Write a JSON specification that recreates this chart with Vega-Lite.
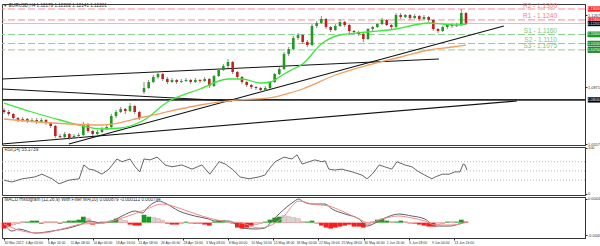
{
"$schema":"https://vega.github.io/schema/vega-lite/v6.json",
"background":"white",
"padding":{"left":0,"top":2,"right":0,"bottom":0},
"bounds":"flush",
"spacing":2,
"config":{"view":{"stroke":"#3a3a3a","strokeWidth":1},"font":"Liberation Sans","axis":{"labelFont":"Liberation Sans","labelColor":"#333","tickColor":"#333","domainColor":"#333","grid":false,"title":null,"labelOverlap":false,"labelFontSize":3.9,"tickSize":2,"labelPadding":0.5}},
"datasets":{
"candles":[
{"i":0,"o":1.07445,"h":1.07555,"l":1.07225,"c":1.07335},
{"i":1,"o":1.07335,"h":1.07445,"l":1.07115,"c":1.07225},
{"i":2,"o":1.07225,"h":1.0728,"l":1.0695,"c":1.07005},
{"i":3,"o":1.07005,"h":1.0706,"l":1.06785,"c":1.06895},
{"i":4,"o":1.06895,"h":1.0706,"l":1.06785,"c":1.0695},
{"i":5,"o":1.0695,"h":1.07005,"l":1.0673,"c":1.0684},
{"i":6,"o":1.0684,"h":1.07005,"l":1.06785,"c":1.06895},
{"i":7,"o":1.06895,"h":1.07005,"l":1.06675,"c":1.06785},
{"i":8,"o":1.06785,"h":1.07005,"l":1.0673,"c":1.06895},
{"i":9,"o":1.06895,"h":1.0695,"l":1.0662,"c":1.0673},
{"i":10,"o":1.0673,"h":1.06785,"l":1.06455,"c":1.06565},
{"i":11,"o":1.06565,"h":1.0662,"l":1.05905,"c":1.06015},
{"i":12,"o":1.06015,"h":1.06125,"l":1.05795,"c":1.0596},
{"i":13,"o":1.0596,"h":1.06235,"l":1.05905,"c":1.06125},
{"i":14,"o":1.06125,"h":1.0618,"l":1.05795,"c":1.05905},
{"i":15,"o":1.05905,"h":1.06125,"l":1.0585,"c":1.06015},
{"i":16,"o":1.06015,"h":1.0618,"l":1.05905,"c":1.0607},
{"i":17,"o":1.0607,"h":1.06785,"l":1.06015,"c":1.06675},
{"i":18,"o":1.06675,"h":1.0673,"l":1.0618,"c":1.0629},
{"i":19,"o":1.0629,"h":1.06345,"l":1.06015,"c":1.06125},
{"i":20,"o":1.06125,"h":1.06345,"l":1.0607,"c":1.06235},
{"i":21,"o":1.06235,"h":1.0651,"l":1.0618,"c":1.064},
{"i":22,"o":1.064,"h":1.0662,"l":1.06345,"c":1.0651},
{"i":23,"o":1.0651,"h":1.07225,"l":1.06455,"c":1.07115},
{"i":24,"o":1.07115,"h":1.07445,"l":1.07005,"c":1.07335},
{"i":25,"o":1.07335,"h":1.0761,"l":1.0728,"c":1.075},
{"i":26,"o":1.075,"h":1.07555,"l":1.07225,"c":1.0739},
{"i":27,"o":1.0739,"h":1.0783,"l":1.07335,"c":1.07665},
{"i":28,"o":1.07665,"h":1.0772,"l":1.07225,"c":1.07335},
{"i":29,"o":1.07335,"h":1.0739,"l":1.06895,"c":1.07005},
{"i":30,"o":1.08435,"h":1.08985,"l":1.08325,"c":1.08655},
{"i":31,"o":1.08655,"h":1.09095,"l":1.086,"c":1.08985},
{"i":32,"o":1.08985,"h":1.0937,"l":1.0893,"c":1.0926},
{"i":33,"o":1.0926,"h":1.0959,"l":1.0915,"c":1.09425},
{"i":34,"o":1.09425,"h":1.0948,"l":1.0904,"c":1.0915},
{"i":35,"o":1.0915,"h":1.0926,"l":1.08875,"c":1.08985},
{"i":36,"o":1.08985,"h":1.09205,"l":1.0893,"c":1.09095},
{"i":37,"o":1.09095,"h":1.0915,"l":1.08875,"c":1.08985},
{"i":38,"o":1.08985,"h":1.0915,"l":1.0893,"c":1.0904},
{"i":39,"o":1.0904,"h":1.09205,"l":1.08985,"c":1.09095},
{"i":40,"o":1.09095,"h":1.0915,"l":1.08875,"c":1.08985},
{"i":41,"o":1.08985,"h":1.09205,"l":1.0893,"c":1.09095},
{"i":42,"o":1.09095,"h":1.0915,"l":1.0893,"c":1.0904},
{"i":43,"o":1.0904,"h":1.0926,"l":1.08985,"c":1.0915},
{"i":44,"o":1.0915,"h":1.09205,"l":1.08655,"c":1.08765},
{"i":45,"o":1.08765,"h":1.0937,"l":1.0871,"c":1.09315},
{"i":46,"o":1.09315,"h":1.09755,"l":1.0926,"c":1.09645},
{"i":47,"o":1.09645,"h":1.09975,"l":1.0959,"c":1.09865},
{"i":48,"o":1.09865,"h":1.1025,"l":1.09755,"c":1.10085},
{"i":49,"o":1.10085,"h":1.1014,"l":1.09425,"c":1.09535},
{"i":50,"o":1.09535,"h":1.0959,"l":1.0915,"c":1.0926},
{"i":51,"o":1.0926,"h":1.09315,"l":1.08875,"c":1.08985},
{"i":52,"o":1.08985,"h":1.0904,"l":1.0871,"c":1.0882},
{"i":53,"o":1.0882,"h":1.08875,"l":1.086,"c":1.0871},
{"i":54,"o":1.0871,"h":1.08765,"l":1.08545,"c":1.08655},
{"i":55,"o":1.08655,"h":1.0871,"l":1.08435,"c":1.08545},
{"i":56,"o":1.08545,"h":1.08765,"l":1.0849,"c":1.08655},
{"i":57,"o":1.08655,"h":1.0904,"l":1.086,"c":1.08985},
{"i":58,"o":1.08985,"h":1.0948,"l":1.0893,"c":1.09425},
{"i":59,"o":1.09425,"h":1.0981,"l":1.0937,"c":1.097},
{"i":60,"o":1.097,"h":1.10635,"l":1.09645,"c":1.10525},
{"i":61,"o":1.10525,"h":1.1091,"l":1.10415,"c":1.108},
{"i":62,"o":1.108,"h":1.11515,"l":1.10745,"c":1.11405},
{"i":63,"o":1.11405,"h":1.1168,"l":1.11295,"c":1.1157},
{"i":64,"o":1.1157,"h":1.11625,"l":1.11075,"c":1.11185},
{"i":65,"o":1.11185,"h":1.11295,"l":1.1091,"c":1.1102},
{"i":66,"o":1.1102,"h":1.12175,"l":1.10965,"c":1.12065},
{"i":67,"o":1.12065,"h":1.1234,"l":1.11955,"c":1.1223},
{"i":68,"o":1.1223,"h":1.12615,"l":1.12175,"c":1.1245},
{"i":69,"o":1.1245,"h":1.12505,"l":1.119,"c":1.1201},
{"i":70,"o":1.1201,"h":1.12065,"l":1.11735,"c":1.11845},
{"i":71,"o":1.11845,"h":1.12175,"l":1.1179,"c":1.12065},
{"i":72,"o":1.12065,"h":1.1245,"l":1.1201,"c":1.12285},
{"i":73,"o":1.12285,"h":1.1234,"l":1.1201,"c":1.1212},
{"i":74,"o":1.1212,"h":1.12175,"l":1.1168,"c":1.1179},
{"i":75,"o":1.1179,"h":1.11845,"l":1.11625,"c":1.11735},
{"i":76,"o":1.11735,"h":1.1179,"l":1.11515,"c":1.11625},
{"i":77,"o":1.11625,"h":1.1168,"l":1.11185,"c":1.1135},
{"i":78,"o":1.1135,"h":1.11955,"l":1.11295,"c":1.119},
{"i":79,"o":1.119,"h":1.12065,"l":1.1179,"c":1.1201},
{"i":80,"o":1.1201,"h":1.1223,"l":1.11955,"c":1.12175},
{"i":81,"o":1.12175,"h":1.12505,"l":1.1212,"c":1.12395},
{"i":82,"o":1.12395,"h":1.1245,"l":1.12065,"c":1.1212},
{"i":83,"o":1.1212,"h":1.12175,"l":1.119,"c":1.1201},
{"i":84,"o":1.1201,"h":1.1278,"l":1.11955,"c":1.1267},
{"i":85,"o":1.1267,"h":1.1278,"l":1.1245,"c":1.1256},
{"i":86,"o":1.1256,"h":1.12725,"l":1.12505,"c":1.1267},
{"i":87,"o":1.1267,"h":1.12725,"l":1.12395,"c":1.12505},
{"i":88,"o":1.12505,"h":1.12725,"l":1.1245,"c":1.12615},
{"i":89,"o":1.12615,"h":1.1267,"l":1.1234,"c":1.1245},
{"i":90,"o":1.1245,"h":1.1267,"l":1.12395,"c":1.1256},
{"i":91,"o":1.1256,"h":1.12615,"l":1.12285,"c":1.12395},
{"i":92,"o":1.12395,"h":1.1245,"l":1.1179,"c":1.119},
{"i":93,"o":1.119,"h":1.11955,"l":1.1168,"c":1.1179},
{"i":94,"o":1.1179,"h":1.12065,"l":1.11735,"c":1.1201},
{"i":95,"o":1.1201,"h":1.12175,"l":1.119,"c":1.1212},
{"i":96,"o":1.1212,"h":1.1223,"l":1.11955,"c":1.12065},
{"i":97,"o":1.12065,"h":1.1223,"l":1.1201,"c":1.1212},
{"i":98,"o":1.1212,"h":1.13,"l":1.12065,"c":1.1278},
{"i":99,"o":1.1278,"h":1.12835,"l":1.1212,"c":1.12201}
],
"ma":[
{"n":"g","i":0,"p":1.0783},{"n":"g","i":6,"p":1.07335},{"n":"g","i":12,"p":1.06895},{"n":"g","i":21,"p":1.064},{"n":"g","i":25,"p":1.06455},{"n":"g","i":30,"p":1.06895},{"n":"g","i":35,"p":1.07885},{"n":"g","i":42,"p":1.086},{"n":"g","i":48,"p":1.0915},{"n":"g","i":51,"p":1.0915},{"n":"g","i":55,"p":1.0893},{"n":"g","i":57,"p":1.08985},{"n":"g","i":60,"p":1.09425},{"n":"g","i":62,"p":1.097},{"n":"g","i":64,"p":1.09975},{"n":"g","i":68,"p":1.11075},{"n":"g","i":72,"p":1.1157},{"n":"g","i":78,"p":1.11735},{"n":"g","i":84,"p":1.119},{"n":"g","i":89,"p":1.12175},{"n":"g","i":91,"p":1.1223},{"n":"g","i":94,"p":1.12175},{"n":"g","i":97,"p":1.1212},{"n":"g","i":99,"p":1.12175},
{"n":"o","i":0,"p":1.0695},{"n":"o","i":21,"p":1.0662},{"n":"o","i":30,"p":1.0706},{"n":"o","i":42,"p":1.0772},{"n":"o","i":50,"p":1.08},{"n":"o","i":57,"p":1.0811},{"n":"o","i":62,"p":1.08435},{"n":"o","i":64,"p":1.086},{"n":"o","i":71,"p":1.0937},{"n":"o","i":78,"p":1.0992},{"n":"o","i":85,"p":1.1036},{"n":"o","i":91,"p":1.10745},{"n":"o","i":96,"p":1.1091},{"n":"o","i":99,"p":1.1102}
],
"tl":[
{"n":"A","i":-0.43,"p":1.0915},{"n":"A","i":93.2,"p":1.1025},
{"n":"B","i":-0.43,"p":1.086},{"n":"B","i":48.9,"p":1.0794},
{"n":"C","i":13.9,"p":1.05575},{"n":"C","i":107.1,"p":1.12065},
{"n":"D","i":-0.43,"p":1.05575},{"n":"D","i":109.9,"p":1.0794}
],
"cur":[{"p":1.12201}],
"hline":[{"p":1.08}],
"levels":[
{"k":"R","p":1.13,"t":"R2 - 1.1300"},{"k":"R","p":1.124,"t":"R1 - 1.1240"},{"k":"S","p":1.116,"t":"S1 - 1.1160"},{"k":"S","p":1.111,"t":"S2 - 1.1110"},{"k":"S","p":1.1075,"t":"S3 - 1.1075"}
],
"tags":[
{"k":"R","p":1.13,"t":"1.13000"},{"k":"R","p":1.124,"t":"1.12400"},{"k":"B","p":1.12201,"t":"1.12201"},{"k":"S","p":1.116,"t":"1.11600"},{"k":"S","p":1.111,"t":"1.11100"},{"k":"S","p":1.1075,"t":"1.10750"},{"k":"B","p":1.08,"t":"1.08000"}
],
"dates":[
{"i":0,"t":"30 Mar 2017"},{"i":4.5,"t":"4 Apr 00:00"},{"i":9.34,"t":"6 Apr 16:00"},{"i":14.18,"t":"11 Apr 08:00"},{"i":19.01,"t":"14 Apr 00:00"},{"i":23.85,"t":"18 Apr 16:00"},{"i":28.69,"t":"21 Apr 08:00"},{"i":33.53,"t":"26 Apr 00:00"},{"i":38.37,"t":"28 Apr 16:00"},{"i":43.2,"t":"3 May 08:00"},{"i":48.04,"t":"8 May 00:00"},{"i":52.88,"t":"10 May 16:00"},{"i":57.72,"t":"15 May 08:00"},{"i":62.56,"t":"18 May 00:00"},{"i":67.39,"t":"22 May 16:00"},{"i":72.23,"t":"25 May 08:00"},{"i":77.07,"t":"30 May 00:00"},{"i":81.91,"t":"1 Jun 16:00"},{"i":86.75,"t":"6 Jun 08:00"},{"i":91.58,"t":"9 Jun 00:00"},{"i":96.42,"t":"13 Jun 16:00"}
],
"rsi":[
{"i":0,"v":30},{"i":1.7,"v":26},{"i":3.9,"v":33},{"i":6.6,"v":37},{"i":8.1,"v":43},{"i":10.3,"v":33},{"i":11.8,"v":22},{"i":13.9,"v":30},{"i":16.1,"v":33},{"i":17.1,"v":63},{"i":18.2,"v":54},{"i":19.3,"v":52},{"i":21,"v":43},{"i":22.5,"v":54},{"i":24.2,"v":76},{"i":25.3,"v":70},{"i":27,"v":76},{"i":28.1,"v":59},{"i":29.1,"v":48},{"i":30,"v":76},{"i":31.3,"v":74},{"i":32.8,"v":80},{"i":33.9,"v":70},{"i":34.5,"v":63},{"i":36,"v":59},{"i":38.1,"v":63},{"i":40.3,"v":54},{"i":42.4,"v":63},{"i":44.1,"v":43},{"i":46.1,"v":70},{"i":47.4,"v":65},{"i":48.9,"v":54},{"i":50.6,"v":37},{"i":52.5,"v":33},{"i":54.6,"v":37},{"i":55.9,"v":41},{"i":56.8,"v":54},{"i":58.1,"v":70},{"i":60,"v":80},{"i":61.7,"v":76},{"i":62.8,"v":85},{"i":63.9,"v":65},{"i":65.4,"v":70},{"i":66.6,"v":74},{"i":68.1,"v":70},{"i":68.8,"v":72},{"i":69.6,"v":54},{"i":70.9,"v":52},{"i":72.4,"v":54},{"i":74.6,"v":48},{"i":76.7,"v":41},{"i":77.8,"v":33},{"i":78.9,"v":43},{"i":80.4,"v":63},{"i":81.6,"v":59},{"i":83.1,"v":54},{"i":84.2,"v":70},{"i":85.9,"v":63},{"i":87.4,"v":59},{"i":88.9,"v":48},{"i":90.2,"v":41},{"i":91.7,"v":33},{"i":92.4,"v":37},{"i":93.9,"v":43},{"i":95.4,"v":43},{"i":96.6,"v":48},{"i":97.7,"v":48},{"i":98.4,"v":65},{"i":98.8,"v":63},{"i":99.2,"v":52}
],
"macd":[
{"n":"m","i":0,"v":-0.0001},{"n":"m","i":1.7,"v":-0.00145},{"n":"m","i":3.2,"v":-0.0011},{"n":"m","i":6.6,"v":-0.0018},{"n":"m","i":10.3,"v":-0.00145},{"n":"m","i":13.9,"v":-0.00093},{"n":"m","i":16.7,"v":-0.00024},{"n":"m","i":18.2,"v":0.00028},{"n":"m","i":21,"v":-0.00007},{"n":"m","i":23.1,"v":0.00028},{"n":"m","i":25.3,"v":0.00114},{"n":"m","i":28.1,"v":0.002},{"n":"m","i":29.6,"v":0.00166},{"n":"m","i":31.1,"v":0.00286},{"n":"m","i":33.2,"v":0.00372},{"n":"m","i":34.5,"v":0.00338},{"n":"m","i":37.5,"v":0.002},{"n":"m","i":40.9,"v":0.00114},{"n":"m","i":43.9,"v":0.00062},{"n":"m","i":45.2,"v":0.00028},{"n":"m","i":48.2,"v":0.00028},{"n":"m","i":49.5,"v":-0.00024},{"n":"m","i":51,"v":-0.00093},{"n":"m","i":53.8,"v":-0.0011},{"n":"m","i":55.9,"v":-0.00093},{"n":"m","i":57.4,"v":0.00028},{"n":"m","i":59.6,"v":0.002},{"n":"m","i":61.7,"v":0.00338},{"n":"m","i":63.2,"v":0.00407},{"n":"m","i":63.9,"v":0.00372},{"n":"m","i":66,"v":0.00321},{"n":"m","i":68.8,"v":0.00321},{"n":"m","i":70.3,"v":0.00234},{"n":"m","i":73.1,"v":0.00148},{"n":"m","i":76.1,"v":0.00062},{"n":"m","i":77.8,"v":-0.00059},{"n":"m","i":79.5,"v":-0.00007},{"n":"m","i":81.6,"v":0.00079},{"n":"m","i":84.6,"v":0.00148},{"n":"m","i":87.4,"v":0.00114},{"n":"m","i":90.2,"v":0.00062},{"n":"m","i":92.4,"v":-0.00059},{"n":"m","i":95.4,"v":-0.00059},{"n":"m","i":97.5,"v":-0.00024},{"n":"m","i":98.8,"v":0.0001},
{"n":"s","i":0,"v":-0.00024},{"n":"s","i":3.9,"v":-0.00145},{"n":"s","i":8.1,"v":-0.0018},{"n":"s","i":12.4,"v":-0.0011},{"n":"s","i":16.7,"v":-0.00024},{"n":"s","i":21,"v":-0.00007},{"n":"s","i":25.3,"v":0.00079},{"n":"s","i":29.6,"v":0.002},{"n":"s","i":33.9,"v":0.00321},{"n":"s","i":38.1,"v":0.00234},{"n":"s","i":42.4,"v":0.00114},{"n":"s","i":46.7,"v":0.00028},{"n":"s","i":51,"v":-0.00007},{"n":"s","i":54.6,"v":-0.00093},{"n":"s","i":56.8,"v":-0.00059},{"n":"s","i":59.6,"v":0.00079},{"n":"s","i":63.2,"v":0.00372},{"n":"s","i":66,"v":0.00321},{"n":"s","i":69.6,"v":0.00286},{"n":"s","i":72.4,"v":0.002},{"n":"s","i":76.1,"v":0.00062},{"n":"s","i":78.2,"v":-0.00007},{"n":"s","i":81,"v":0.00062},{"n":"s","i":84.6,"v":0.00114},{"n":"s","i":87.4,"v":0.00079},{"n":"s","i":90.2,"v":0.00028},{"n":"s","i":92.4,"v":-0.00041},{"n":"s","i":96,"v":-0.00041},{"n":"s","i":99.2,"v":0.0001}
],
"hist":[
{"i":0,"v":-0.00102,"k":"r"},{"i":1,"v":-0.00068,"k":"r"},{"i":2,"v":-0.00034,"k":"s"},{"i":3,"v":-0.00017,"k":"s"},{"i":4,"v":0.00017,"k":"s"},{"i":5,"v":0.00017,"k":"g"},{"i":6,"v":0.00034,"k":"g"},{"i":7,"v":0.00034,"k":"g"},{"i":8,"v":-0.00017,"k":"r"},{"i":9,"v":0.00017,"k":"s"},
{"i":10,"v":0.00017,"k":"s"},{"i":11,"v":0.00017,"k":"s"},{"i":12,"v":-0.00017,"k":"r"},{"i":13,"v":0.00017,"k":"g"},{"i":14,"v":0.00034,"k":"g"},{"i":15,"v":0.00034,"k":"g"},{"i":16,"v":0.00051,"k":"g"},{"i":17,"v":0.00102,"k":"g"},{"i":18,"v":0.00068,"k":"s"},{"i":19,"v":-0.00034,"k":"r"},
{"i":20,"v":-0.00017,"k":"r"},{"i":21,"v":0.00017,"k":"s"},{"i":22,"v":0.00017,"k":"s"},{"i":23,"v":0.00034,"k":"g"},{"i":24,"v":0.00068,"k":"g"},{"i":25,"v":0.00051,"k":"s"},{"i":26,"v":0.00034,"k":"s"},{"i":27,"v":-0.00034,"k":"r"},{"i":28,"v":-0.00051,"k":"r"},{"i":29,"v":-0.00051,"k":"r"},
{"i":30,"v":0.00136,"k":"g"},{"i":31,"v":0.00102,"k":"g"},{"i":32,"v":0.00085,"k":"s"},{"i":33,"v":0.00068,"k":"s"},{"i":34,"v":0.00034,"k":"s"},{"i":35,"v":-0.00017,"k":"r"},{"i":36,"v":-0.00034,"k":"r"},{"i":37,"v":-0.00034,"k":"r"},{"i":38,"v":-0.00017,"k":"s"},{"i":39,"v":0.00017,"k":"g"},
{"i":40,"v":-0.00017,"k":"s"},{"i":41,"v":-0.00017,"k":"r"},{"i":42,"v":-0.00017,"k":"r"},{"i":43,"v":-0.00034,"k":"r"},{"i":44,"v":-0.00051,"k":"r"},{"i":45,"v":0.00017,"k":"g"},{"i":46,"v":0.00034,"k":"g"},{"i":47,"v":0.00034,"k":"g"},{"i":48,"v":0.00017,"k":"s"},{"i":49,"v":-0.00017,"k":"s"},
{"i":50,"v":-0.00085,"k":"r"},{"i":51,"v":-0.00102,"k":"r"},{"i":52,"v":-0.00085,"k":"r"},{"i":53,"v":-0.00051,"k":"r"},{"i":54,"v":-0.00034,"k":"s"},{"i":55,"v":-0.00017,"k":"s"},{"i":56,"v":0.00017,"k":"g"},{"i":57,"v":0.00051,"k":"g"},{"i":58,"v":0.00085,"k":"g"},{"i":59,"v":0.00102,"k":"g"},
{"i":60,"v":0.00119,"k":"s"},{"i":61,"v":0.00102,"k":"s"},{"i":62,"v":0.00085,"k":"s"},{"i":63,"v":0.00068,"k":"s"},{"i":64,"v":0.00017,"k":"s"},{"i":65,"v":0.00017,"k":"g"},{"i":66,"v":0.00034,"k":"g"},{"i":67,"v":-0.00017,"k":"s"},{"i":68,"v":-0.00051,"k":"r"},{"i":69,"v":-0.00085,"k":"r"},
{"i":70,"v":-0.00102,"k":"r"},{"i":71,"v":-0.00085,"k":"r"},{"i":72,"v":-0.00068,"k":"r"},{"i":73,"v":-0.00051,"k":"r"},{"i":74,"v":-0.00034,"k":"r"},{"i":75,"v":-0.00068,"k":"r"},{"i":76,"v":-0.00068,"k":"r"},{"i":77,"v":-0.00085,"k":"r"},{"i":78,"v":-0.00034,"k":"s"},{"i":79,"v":0.00017,"k":"s"},
{"i":80,"v":0.00051,"k":"g"},{"i":81,"v":0.00068,"k":"g"},{"i":82,"v":0.00034,"k":"g"},{"i":83,"v":0.00017,"k":"s"},{"i":84,"v":0.00017,"k":"g"},{"i":85,"v":0.00034,"k":"g"},{"i":86,"v":0.00017,"k":"s"},{"i":87,"v":-0.00017,"k":"s"},{"i":88,"v":-0.00017,"k":"r"},{"i":89,"v":-0.00034,"k":"r"},
{"i":90,"v":-0.00051,"k":"r"},{"i":91,"v":-0.00068,"k":"r"},{"i":92,"v":-0.00068,"k":"r"},{"i":93,"v":-0.00034,"k":"s"},{"i":94,"v":-0.00017,"k":"s"},{"i":95,"v":0.00017,"k":"g"},{"i":96,"v":0.00017,"k":"s"},{"i":97,"v":0.00017,"k":"g"},{"i":98,"v":0.00051,"k":"g"},{"i":99,"v":0.00017,"k":"r"}
]
},
"vconcat":[
{"width":583,"height":141,
 "layer":[
  {"data":{"name":"levels"},"mark":{"type":"rule","strokeDash":[7,3],"strokeWidth":1},
   "encoding":{"y":{"field":"p","type":"quantitative","scale":{"domain":[1.0552,1.13275],"nice":false,"zero":false},
     "axis":{"orient":"right","values":[1.1322,1.1267,1.119,1.1003,1.0937,1.0871,1.07445,1.06785,1.0618,1.05575],"format":".5f"}},
    "color":{"condition":{"test":"datum.k === 'R'","value":"#ff8a8a"},"value":"#8ccf8c"}}},
  {"data":{"name":"cur"},"mark":{"type":"rule","color":"#c8c8c8","strokeWidth":1},
   "encoding":{"y":{"field":"p","type":"quantitative","scale":{"domain":[1.0552,1.13275],"nice":false,"zero":false}}}},
  {"data":{"name":"hline"},"mark":{"type":"rule","color":"#2a2a2a","strokeWidth":1.6},
   "encoding":{"y":{"field":"p","type":"quantitative","scale":{"domain":[1.0552,1.13275],"nice":false,"zero":false}}}},
  {"data":{"name":"tl"},"mark":{"type":"line","color":"#111","strokeWidth":1.2,"clip":true},
   "encoding":{"x":{"field":"i","type":"quantitative","scale":{"domain":[-0.43,124.5],"nice":false,"zero":false},"axis":null},
    "y":{"field":"p","type":"quantitative","scale":{"domain":[1.0552,1.13275],"nice":false,"zero":false}},
    "detail":{"field":"n","type":"nominal"}}},
  {"data":{"name":"candles"},"mark":{"type":"rule","color":"#8a8a8a","strokeWidth":1},
   "encoding":{"x":{"field":"i","type":"quantitative","scale":{"domain":[-0.43,124.5],"nice":false,"zero":false},"axis":null},
    "y":{"field":"l","type":"quantitative","scale":{"domain":[1.0552,1.13275],"nice":false,"zero":false}},
    "y2":{"field":"h"}}},
  {"data":{"name":"candles"},"mark":{"type":"rule","strokeWidth":2.6},
   "encoding":{"x":{"field":"i","type":"quantitative","scale":{"domain":[-0.43,124.5],"nice":false,"zero":false},"axis":null},
    "y":{"field":"o","type":"quantitative","scale":{"domain":[1.0552,1.13275],"nice":false,"zero":false}},
    "y2":{"field":"c"},
    "color":{"condition":{"test":"datum.c >= datum.o","value":"#1f9a1f"},"value":"#c41e1e"}}},
  {"data":{"name":"ma"},"mark":{"type":"line","interpolate":"monotone","strokeWidth":1.3},
   "encoding":{"x":{"field":"i","type":"quantitative","scale":{"domain":[-0.43,124.5],"nice":false,"zero":false},"axis":null},
    "y":{"field":"p","type":"quantitative","scale":{"domain":[1.0552,1.13275],"nice":false,"zero":false}},
    "detail":{"field":"n","type":"nominal"},
    "color":{"condition":{"test":"datum.n === 'g'","value":"#3ce83c"},"value":"#f0a060"}}},
  {"data":{"name":"levels"},"mark":{"type":"text","align":"right","baseline":"bottom","dy":-0.5,"fontSize":6.5,"clip":false},
   "encoding":{"x":{"datum":118.5,"type":"quantitative","scale":{"domain":[-0.43,124.5],"nice":false,"zero":false},"axis":null},
    "y":{"field":"p","type":"quantitative","scale":{"domain":[1.0552,1.13275],"nice":false,"zero":false}},
    "text":{"field":"t","type":"nominal"},
    "color":{"condition":{"test":"datum.k === 'R'","value":"#ff7a7a"},"value":"#7cc67c"}}},
  {"data":{"name":"tags"},"mark":{"type":"point","shape":"M-1,-0.38H1V0.38H-1Z","filled":true,"size":196,"opacity":1,"clip":false},
   "encoding":{"x":{"datum":126.6,"type":"quantitative","scale":{"domain":[-0.43,124.5],"nice":false,"zero":false},"axis":null},
    "y":{"field":"p","type":"quantitative","scale":{"domain":[1.0552,1.13275],"nice":false,"zero":false}},
    "color":{"condition":{"test":"datum.k === 'R'","value":"#ff1f1f"},"value":"#000000"}}},
  {"data":{"name":"tags"},"transform":[{"filter":"datum.k === 'S'"}],"mark":{"type":"point","shape":"M-1,-0.38H1V0.38H-1Z","filled":true,"size":196,"opacity":1,"clip":false,"color":"#1e9a1e"},
   "encoding":{"x":{"datum":126.6,"type":"quantitative","scale":{"domain":[-0.43,124.5],"nice":false,"zero":false},"axis":null},
    "y":{"field":"p","type":"quantitative","scale":{"domain":[1.0552,1.13275],"nice":false,"zero":false}}}},
  {"data":{"name":"tags"},"mark":{"type":"text","align":"center","baseline":"middle","fontSize":3.4,"color":"white","clip":false},
   "encoding":{"x":{"datum":126.4,"type":"quantitative","scale":{"domain":[-0.43,124.5],"nice":false,"zero":false},"axis":null},
    "y":{"field":"p","type":"quantitative","scale":{"domain":[1.0552,1.13275],"nice":false,"zero":false}},
    "text":{"field":"t","type":"nominal"}}},
  {"data":{"values":[{"t":"▾ EURUSD,H4  1.12179 1.12282 1.12141 1.12201","p":1.1314}]},"mark":{"type":"text","align":"left","baseline":"middle","fontSize":4.6,"color":"#333"},
   "encoding":{"x":{"datum":0.1,"type":"quantitative","scale":{"domain":[-0.43,124.5],"nice":false,"zero":false},"axis":null},
    "y":{"field":"p","type":"quantitative","scale":{"domain":[1.0552,1.13275],"nice":false,"zero":false}},
    "text":{"field":"t","type":"nominal"}}}
 ]},
{"width":583,"height":48,
 "layer":[
  {"data":{"values":[{"v":30},{"v":50},{"v":70}]},"mark":{"type":"rule","color":"#b8b8b8","strokeDash":[1,2],"strokeWidth":1},
   "encoding":{"y":{"field":"v","type":"quantitative","scale":{"domain":[-2.2,102],"nice":false,"zero":false},
     "axis":{"orient":"right","values":[0,30,50,70,100],"format":"d"}}}},
  {"data":{"name":"rsi"},"mark":{"type":"line","color":"#555","strokeWidth":0.9},
   "encoding":{"x":{"field":"i","type":"quantitative","scale":{"domain":[-0.43,124.5],"nice":false,"zero":false},"axis":null},
    "y":{"field":"v","type":"quantitative","scale":{"domain":[-2.2,102],"nice":false,"zero":false}}}},
  {"data":{"values":[{"t":"RSI(14) 55.1739","v":95}]},"mark":{"type":"text","align":"left","baseline":"middle","fontSize":4.6,"color":"#333"},
   "encoding":{"x":{"datum":0.1,"type":"quantitative","scale":{"domain":[-0.43,124.5],"nice":false,"zero":false},"axis":null},
    "y":{"field":"v","type":"quantitative","scale":{"domain":[-2.2,102],"nice":false,"zero":false}},
    "text":{"field":"t","type":"nominal"}}}
 ]},
{"width":583,"height":41,
 "layer":[
  {"data":{"name":"hist"},"mark":{"type":"rule","strokeWidth":4.7},
   "encoding":{"x":{"field":"i","type":"quantitative","scale":{"domain":[-0.43,124.5],"nice":false,"zero":false},
     "axis":{"orient":"bottom","values":[0,4.5,9.34,14.18,19.01,23.85,28.69,33.53,38.37,43.2,48.04,52.88,57.72,62.56,67.39,72.23,77.07,81.91,86.75,91.58,96.42],"labels":false}},
    "y":{"field":"v","type":"quantitative","scale":{"domain":[-0.00265,0.00442],"nice":false,"zero":false},
     "axis":{"orient":"right","values":[0.0041,0,-0.0022],"labelExpr":"datum.value > 0.001 ? '0.004423' : (datum.value < -0.001 ? '-0.004095' : '0.00')"}},
    "y2":{"datum":0},
    "color":{"condition":{"test":"datum.k === 'g'","value":"#1a9a1a"},"value":"#ff1a1a"}}},
  {"data":{"name":"hist"},"transform":[{"filter":"datum.k === 's'"}],"mark":{"type":"rule","strokeWidth":4.7,"color":"#d4d4d4"},
   "encoding":{"x":{"field":"i","type":"quantitative","scale":{"domain":[-0.43,124.5],"nice":false,"zero":false}},
    "y":{"field":"v","type":"quantitative","scale":{"domain":[-0.00265,0.00442],"nice":false,"zero":false}},
    "y2":{"datum":0}}},
  {"data":{"name":"macd"},"mark":{"type":"line","strokeWidth":1,"interpolate":"monotone"},
   "encoding":{"x":{"field":"i","type":"quantitative","scale":{"domain":[-0.43,124.5],"nice":false,"zero":false}},
    "y":{"field":"v","type":"quantitative","scale":{"domain":[-0.00265,0.00442],"nice":false,"zero":false}},
    "detail":{"field":"n","type":"nominal"},
    "color":{"condition":{"test":"datum.n === 'm'","value":"#606060"},"value":"#f08a8a"}}},
  {"data":{"name":"dates"},"mark":{"type":"text","align":"left","baseline":"top","dy":2.5,"dx":0.5,"fontSize":3.4,"font":"Liberation Sans Narrow, Liberation Sans","color":"#333","clip":false},
   "encoding":{"x":{"field":"i","type":"quantitative","scale":{"domain":[-0.43,124.5],"nice":false,"zero":false}},
    "y":{"datum":-0.00265,"type":"quantitative","scale":{"domain":[-0.00265,0.00442],"nice":false,"zero":false}},
    "text":{"field":"t","type":"nominal"}}},
  {"data":{"values":[{"t":"MACD Histogram (12,26,9) With Filter MA(10) 0.000879 -0.000112 0.000794","v":0.0039}]},"mark":{"type":"text","align":"left","baseline":"middle","fontSize":4.6,"color":"#333"},
   "encoding":{"x":{"datum":0.1,"type":"quantitative","scale":{"domain":[-0.43,124.5],"nice":false,"zero":false}},
    "y":{"field":"v","type":"quantitative","scale":{"domain":[-0.00265,0.00442],"nice":false,"zero":false}},
    "text":{"field":"t","type":"nominal"}}}
 ]}
]
}
